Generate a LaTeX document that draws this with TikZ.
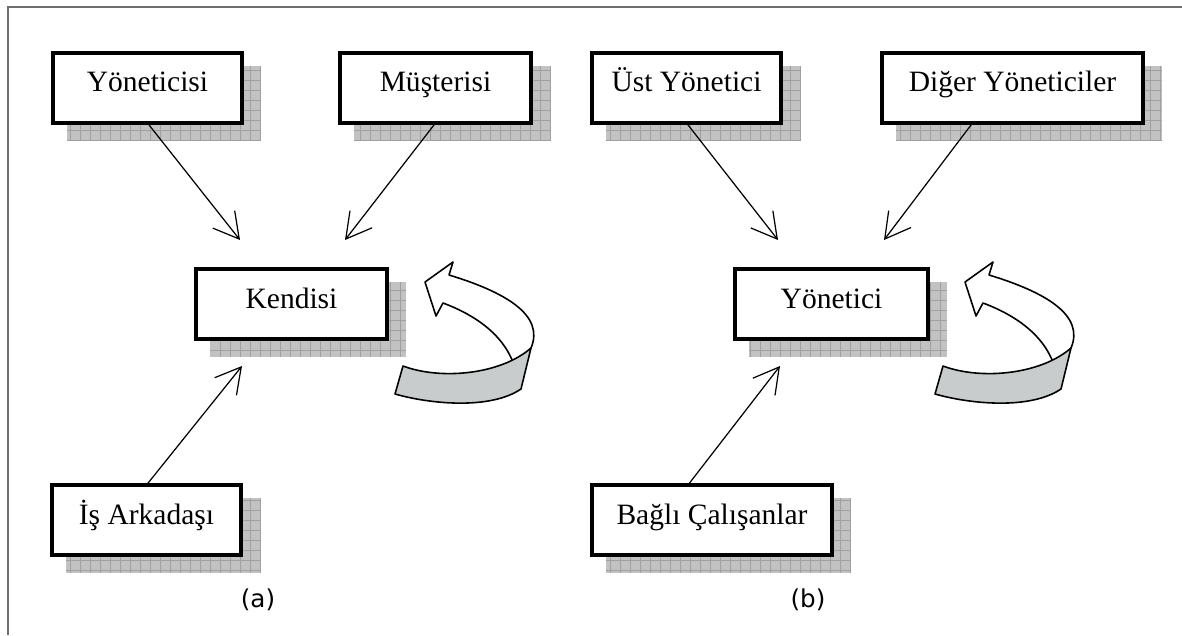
\documentclass[tikz,border=0pt]{standalone}
\usepackage{fontspec}
\setmainfont{Liberation Serif}
\newfontfamily\labelfont{DejaVu Sans}
\usetikzlibrary{arrows.meta, positioning, calc, backgrounds}

\definecolor{shadowgray}{RGB}{194,194,194}
\definecolor{gridgray}{RGB}{160,160,160}
\definecolor{bandgray}{RGB}{200,204,204}
\definecolor{framegray}{RGB}{110,110,110}

\tikzset{
  box/.style={draw, line width=0.08cm, fill=white, outer sep=0pt,
    minimum height=1.4cm, text height=0.4cm, text depth=0.24cm,
    font=\fontsize{16.8}{20}\selectfont},
  arr/.style={-{Straight Barb[length=0.5cm,width=0.56cm]}, line width=0.7pt},
  curl/.style={line width=0.9pt, line join=round},
  sublabel/.style={font=\labelfont\fontsize{14}{16}\selectfont},
}

\begin{document}
\begin{tikzpicture}[x=0.02cm, y=-0.02cm]
    \useasboundingbox (0,0) rectangle (1182,635);

    % frame
    \draw[framegray, line width=0.04cm] (8,635) -- (8,7) -- (1182,7);

    % (a)
    \node[box, minimum width=3.78cm] (yonet) at (147.5,88) {Yöneticisi};
    \node[box, minimum width=3.82cm] (must) at (435.5,88) {Müşterisi};
    \node[box, minimum width=3.82cm] (kend) at (291.5,304) {Kendisi};
    \node[box, minimum width=3.78cm] (isark) at (146.5,520) {İş Arkadaşı};
    \node[sublabel] (lbla) at (258,600) {(a)};

    % (b)
    \node[box, minimum width=3.78cm] (ust) at (686.5,88) {Üst Yönetici};
    \node[box, minimum width=5.22cm] (diger) at (1012.5,88) {Diğer Yöneticiler};
    \node[box, minimum width=3.86cm] (ynt) at (831.5,304) {Yönetici};
    \node[box, minimum width=4.8cm] (bagli) at (712,520) {Bağlı Çalışanlar};
    \node[sublabel] (lblb) at (808,600) {(b)};

    % Shadows
    \begin{scope}[on background layer]
      \foreach \n in {yonet,must,kend,isark,ust,diger,ynt,bagli} {
        \fill[shadowgray] ($(\n.north west)+(14,13)$) rectangle ($(\n.south east)+(19,18)$);
        \draw[gridgray, line width=0.3pt, step=0.2cm]
          ($(\n.north west)+(14,13)$) grid ($(\n.south east)+(19,18)$);
      }
    \end{scope}

    % Arrows
    \coordinate (tya) at (240,240);
    \coordinate (tma) at (345,240);
    \coordinate (tia) at (242,366);
    \draw[arr] (yonet.south) -- (tya);
    \draw[arr] (must.south) -- (tma);
    \draw[arr] (isark.north) -- (tia);

    \coordinate (tub) at (778,240);
    \coordinate (tdb) at (884,240);
    \coordinate (tbb) at (780,366);
    \draw[arr] (ust.south) -- (tub);
    \draw[arr] ($(diger.south)+(-40,0)$) -- (tdb);
    \draw[arr] ($(bagli.north)+(-24,0)$) -- (tbb);

    % Self arrows
    \foreach \s in {0,540} {
      \begin{scope}[shift={(\s,0)}]
        \fill[white] (531,348) .. controls (545,315) and (505,292) .. (449,275)
          -- (453,262) -- (425,282) -- (436,316) -- (443,303)
          .. controls (475,315) and (505,335) .. (515,368) -- cycle;
        \draw[curl] (531,348) .. controls (545,315) and (505,292) .. (449,275)
          -- (453,262) -- (425,282) -- (436,316) -- (443,303)
          .. controls (475,315) and (505,335) .. (515,368);
        \draw[curl, fill=bandgray] (403,366) .. controls (440,380) and (500,375) .. (531,348)
          -- (521,389) .. controls (490,410) and (430,404) .. (395,394) -- cycle;
      \end{scope}
    }
\end{tikzpicture}
\end{document}
